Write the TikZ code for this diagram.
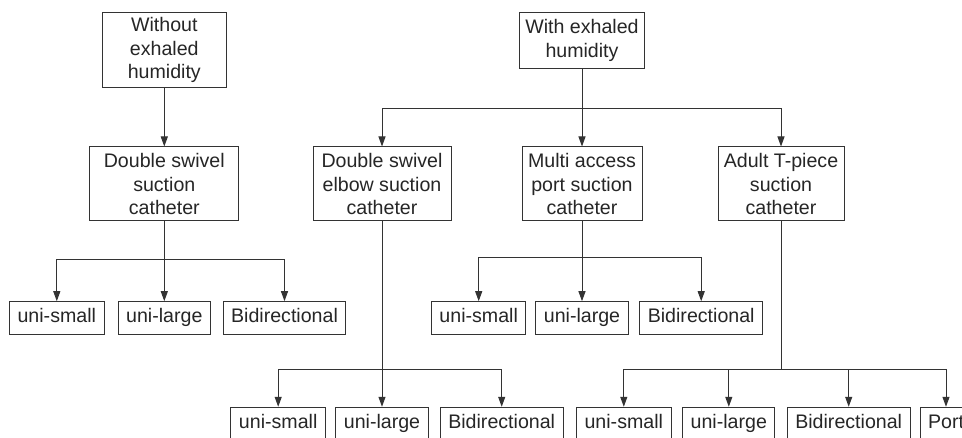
\documentclass[tikz,border=0pt]{standalone}
\usepackage{fontspec}
\setmainfont{Liberation Sans}
\usetikzlibrary{positioning, arrows.meta}

\tikzset{
    box/.style={draw=black!80, line width=1pt, fill=white, text=black!85, align=center,
        font=\fontsize{19.6}{23.3}\selectfont, inner ysep=0pt},
    leaf/.style={box, inner xsep=8pt, minimum height=32.6pt, text height=14.1pt, text depth=4.1pt},
    arr/.style={draw=black!80, line width=1pt, -{Triangle[length=10pt,width=7pt]}},
    ln/.style={draw=black!80, line width=1pt}
}

\begin{document}
\begin{tikzpicture}[x=1pt, y=-1pt]
    \clip (0,0) rectangle (962,438);

    % top level
    \node[box, minimum width=124.3pt, minimum height=74.6pt] (wo) at (164.3,50) {Without\\exhaled\\humidity};
    \node[box, minimum width=124.7pt, minimum height=55.6pt] (w) at (582,40.5) {With exhaled\\humidity};

    % catheters
    \node[box, minimum width=148.7pt, minimum height=74pt] (dsw) at (164.3,184) {Double swivel\\suction\\catheter};
    \node[box, minimum width=138pt, minimum height=74pt] (dse) at (382,184) {Double swivel\\elbow suction\\catheter};
    \node[box, minimum width=120pt, minimum height=74pt] (map) at (582,184) {Multi access\\port suction\\catheter};
    \node[box, minimum width=126pt, minimum height=74pt] (atp) at (781,184) {Adult T-piece\\suction\\catheter};

    % leaves
    \node[leaf] (a1) at (56.8,318) {uni-small};
    \node[leaf] (a2) at (164.3,318) {uni-large};
    \node[leaf] (a3) at (284.5,318) {Bidirectional};
    \node[leaf] (c1) at (478.7,318) {uni-small};
    \node[leaf] (c2) at (582,318) {uni-large};
    \node[leaf] (c3) at (701.2,318) {Bidirectional};
    \node[leaf] (b1) at (278.2,423.6) {uni-small};
    \node[leaf] (b2) at (382,423.6) {uni-large};
    \node[leaf] (b3) at (501.7,423.6) {Bidirectional};
    \node[leaf] (d1) at (623.8,423.6) {uni-small};
    \node[leaf] (d2) at (728.8,423.6) {uni-large};
    \node[leaf] (d3) at (848.7,423.6) {Bidirectional};
    \node[leaf] (d4) at (946,423.6) {Port};

    \coordinate (wj) at (582,109);
    \coordinate (dswj) at (164.3,260);
    \coordinate (mapj) at (582,257.7);
    \coordinate (dsej) at (382,369.3);
    \coordinate (atpj) at (781,369.3);

    \draw[arr] (wo) -- (dsw);
    \draw[arr] (w) -- (map);
    \draw[arr] (wj) -| (dse);
    \draw[arr] (wj) -| (atp);

    \draw[arr] (dsw) -- (a2);
    \draw[arr] (dswj) -| (a1);
    \draw[arr] (dswj) -| (a3);

    \draw[arr] (map) -- (c2);
    \draw[arr] (mapj) -| (c1);
    \draw[arr] (mapj) -| (c3);

    \draw[arr] (dse) -- (b2);
    \draw[arr] (dsej) -| (b1);
    \draw[arr] (dsej) -| (b3);

    \draw[ln] (atp) -- (atpj);
    \foreach \n in {d1,d2,d3,d4} {
        \draw[arr] (atpj) -| (\n);
    }
\end{tikzpicture}
\end{document}
